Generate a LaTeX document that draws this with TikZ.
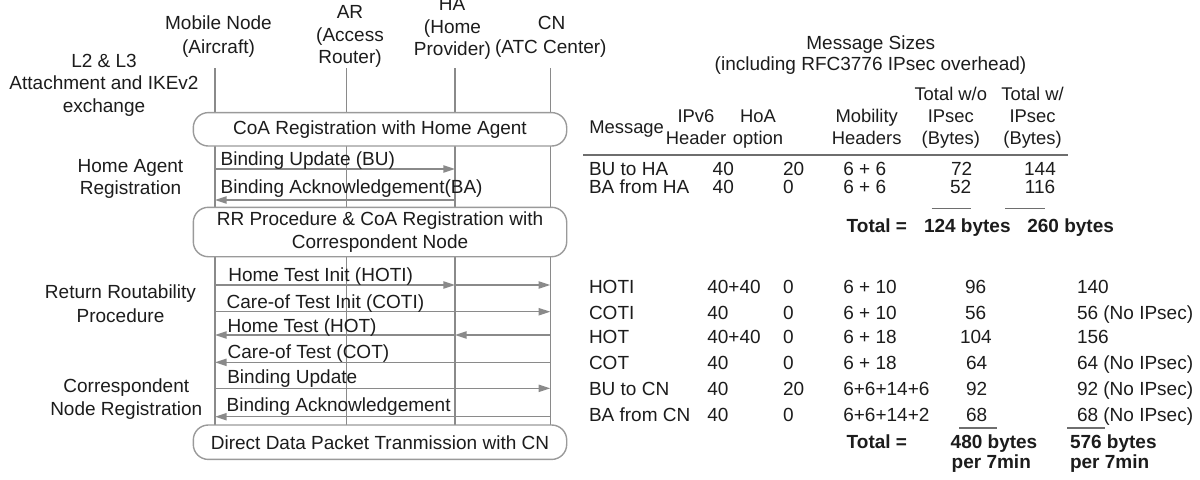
\documentclass[tikz,border=0pt]{standalone}
\usepackage{fontspec}
\setmainfont{Liberation Sans}
\usetikzlibrary{arrows.meta,backgrounds}
\definecolor{ink}{HTML}{1C1C1C}
\definecolor{linegray}{HTML}{8A8A8A}
\definecolor{boxgray}{HTML}{9A9A9A}
\definecolor{rulegray}{HTML}{6E6E6E}

\begin{document}
\begin{tikzpicture}[x=0.5pt, y=-0.5pt,
  every node/.style={inner sep=0pt, outer sep=0pt, text=ink,
                     font=\fontsize{9.5}{11.3}\selectfont},
  ctr/.style={anchor=base},
  lft/.style={anchor=base west},
  bold/.style={font=\fontsize{9.5}{11.3}\selectfont\bfseries},
  colhead/.style={anchor=base, font=\fontsize{9.2}{11}\selectfont},
  lifeline/.style={draw=linegray, line width=0.7pt},
  msg/.style={draw=linegray, line width=0.7pt,
              -{Triangle[length=5.8pt, width=3.6pt]}},
  phase/.style={draw=boxgray, fill=white, line width=0.7pt,
                rounded corners=7.5pt, minimum width=186.7pt, align=center},
  toprule/.style={draw=rulegray, line width=1pt},
  sumrule/.style={draw=rulegray, line width=0.6pt}]

\useasboundingbox (0,0) rectangle (1200,479);

% ---------------- entity headings ----------------
\node[ctr] (mnA) at (218.5,29.5) {Mobile Node};
\node[ctr] (mnB) at (218.5,53)   {(Aircraft)};
\node[ctr] (arA) at (350,18.5)   {AR};
\node[ctr] (arB) at (350,41)     {(Access};
\node[ctr] (arC) at (350,63.5)   {Router)};
\node[ctr] (haA) at (452,10.5)   {HA};
\node[ctr] (haB) at (452.5,33)   {(Home};
\node[ctr] (haC) at (452.5,55.5) {Provider)};
\node[ctr] (cnA) at (551.5,29)   {CN};
\node[ctr] (cnB) at (550.8,53)   {(ATC Center)};

% lifeline tops
\coordinate (mn) at (215,68);
\coordinate (ar) at (346.7,68);
\coordinate (ha) at (455,68);
\coordinate (cn) at (550.3,68);

% ---------------- phase boxes ----------------
\node[phase, minimum height=16.7pt] (coa) at (380,129.3)
  {CoA Registration with Home Agent};
\node[phase, minimum height=24.7pt] (rr) at (380,232)
  {RR Procedure \& CoA Registration with\\Correspondent Node};
\node[phase, minimum height=17.2pt] (ddp) at (380,442.2)
  {Direct Data Packet Tranmission with CN};

% lifelines run behind the boxes
\begin{scope}[on background layer]
  \foreach \e in {mn,ar,ha,cn}
    \draw[lifeline] (\e) -- (\e |- ddp.north);
\end{scope}

% ---------------- phase labels on the left ----------------
\node[ctr] (phA1) at (104,67)    {L2 \& L3};
\node[ctr] (phA2) at (104,89)    {Attachment and IKEv2};
\node[ctr] (phA3) at (104,112)   {exchange};
\node[ctr] (phB1) at (130.5,172) {Home Agent};
\node[ctr] (phB2) at (130.5,194.7) {Registration};
\node[ctr] (phC1) at (120.5,298.7) {Return Routability};
\node[ctr] (phC2) at (120.5,322) {Procedure};
\node[ctr] (phD1) at (126.3,392) {Correspondent};
\node[ctr] (phD2) at (126.3,415.3) {Node Registration};

% ---------------- messages ----------------
\draw[msg] (mn |- 0,169) -- (ha |- 0,169);
\node[lft] (mBU) at (220.7,165.3) {Binding Update (BU)};
\draw[msg] (ha |- 0,200) -- (mn |- 0,200);
\node[lft] (mBA) at (220.7,193.7) {Binding Acknowledgement(BA)};

\draw[msg] (mn |- 0,285) -- (ha |- 0,285);
\draw[msg] (ha |- 0,285) -- (cn |- 0,285);
\node[lft] (mHOTI) at (228.3,281.3) {Home Test Init (HOTI)};
\draw[msg] (mn |- 0,311.7) -- (cn |- 0,311.7);
\node[lft] (mCOTI) at (226.7,308.7) {Care-of Test Init (COTI)};
\draw[msg] (cn |- 0,335) -- (ha |- 0,335);
\draw[msg] (ha |- 0,335) -- (mn |- 0,335);
\node[lft] (mHOT) at (227.7,332) {Home Test (HOT)};
\draw[msg] (cn |- 0,362.3) -- (mn |- 0,362.3);
\node[lft] (mCOT) at (227.7,358.7) {Care-of Test (COT)};
\draw[msg] (mn |- 0,388.3) -- (cn |- 0,388.3);
\node[lft] (mBU2) at (227.3,383.7) {Binding Update};
\draw[msg] (cn |- 0,416.7) -- (mn |- 0,416.7);
\node[lft] (mBA2) at (226.7,411) {Binding Acknowledgement};

% ---------------- message size table ----------------
\node[ctr] (tt1) at (870.8,49.7) {Message Sizes};
\node[ctr] (tt2) at (870.5,70.3) {(including RFC3776 IPsec overhead)};

\node[colhead, anchor=base west] (hMsg) at (589.3,133.5) {Message};
\node[colhead] (hIp1) at (696,122.5) {IPv6};
\node[colhead] (hIp2) at (696,144)   {Header};
\node[colhead] (hHo1) at (758,122.5) {HoA};
\node[colhead] (hHo2) at (758,144)   {option};
\node[colhead] (hMo1) at (866.7,122.5) {Mobility};
\node[colhead] (hMo2) at (866.7,144)   {Headers};
\node[colhead] (hWo1) at (950.8,100.5) {Total w/o};
\node[colhead] (hWo2) at (950.8,122.5) {IPsec};
\node[colhead] (hWo3) at (950.8,144)   {(Bytes)};
\node[colhead] (hW1)  at (1032.5,100.5) {Total w/};
\node[colhead] (hW2)  at (1032.5,122.5) {IPsec};
\node[colhead] (hW3)  at (1032.5,144)   {(Bytes)};
\coordinate (ruleL) at (583,155);
\coordinate (ruleR) at (1068,155);
\draw[toprule] (ruleL) -- (ruleR);

% home agent registration block
\node[lft] (r1a) at (589,175)   {BU to HA};
\node[lft] (r1b) at (712.7,175) {40};
\node[lft] (r1c) at (783,175)   {20};
\node[lft] (r1d) at (843.3,175) {6 + 6};
\node[ctr] (r1e) at (961.7,175) {72};
\node[ctr] (r1f) at (1040,175)  {144};

\node[lft] (r2a) at (589,193)   {BA from HA};
\node[lft] (r2b) at (712.7,193) {40};
\node[lft] (r2c) at (783,193)   {0};
\node[lft] (r2d) at (843.3,193) {6 + 6};
\node[ctr] (r2e) at (960.7,193) {52};
\node[ctr] (r2f) at (1040,193)  {116};

\coordinate (s1L) at (931.7,208.5); \coordinate (s1R) at (970.7,208.5);
\coordinate (s2L) at (1005,208.5);  \coordinate (s2R) at (1045,208.5);
\draw[sumrule] (s1L) -- (s1R);
\draw[sumrule] (s2L) -- (s2R);

\node[lft, bold] (t1a) at (846.7,232.5) {Total =};
\node[lft, bold] (t1b) at (924,232.5)   {124 bytes};
\node[lft, bold] (t1c) at (1027.3,232.5) {260 bytes};

% return routability and correspondent registration block
\node[lft] (r3a) at (589,293)   {HOTI};
\node[lft] (r3b) at (707.3,293) {40+40};
\node[lft] (r3c) at (783,293)   {0};
\node[lft] (r3d) at (843.3,293) {6 + 10};
\node[lft] (r3e) at (965,293)   {96};
\node[lft] (r3f) at (1077,293)  {140};

\node[lft] (r4a) at (589,319)   {COTI};
\node[lft] (r4b) at (707.3,319) {40};
\node[lft] (r4c) at (783,319)   {0};
\node[lft] (r4d) at (843.3,319) {6 + 10};
\node[lft] (r4e) at (965,319)   {56};
\node[lft] (r4f) at (1077,319)  {56 (No IPsec)};

\node[lft] (r5a) at (589,343)   {HOT};
\node[lft] (r5b) at (707.3,343) {40+40};
\node[lft] (r5c) at (783,343)   {0};
\node[lft] (r5d) at (843.3,343) {6 + 18};
\node[lft] (r5e) at (960,343)   {104};
\node[lft] (r5f) at (1077,343)  {156};

\node[lft] (r6a) at (589,369.5)   {COT};
\node[lft] (r6b) at (707.3,369.5) {40};
\node[lft] (r6c) at (783,369.5)   {0};
\node[lft] (r6d) at (843.3,369.5) {6 + 18};
\node[lft] (r6e) at (966,369.5)   {64};
\node[lft] (r6f) at (1077,369.5)  {64 (No IPsec)};

\node[lft] (r7a) at (589,395.5)   {BU to CN};
\node[lft] (r7b) at (707.3,395.5) {40};
\node[lft] (r7c) at (783,395.5)   {20};
\node[lft] (r7d) at (843.3,395.5) {6+6+14+6};
\node[lft] (r7e) at (966,395.5)   {92};
\node[lft] (r7f) at (1077,395.5)  {92 (No IPsec)};

\node[lft] (r8a) at (589,421)   {BA from CN};
\node[lft] (r8b) at (707.3,421) {40};
\node[lft] (r8c) at (783,421)   {0};
\node[lft] (r8d) at (843.3,421) {6+6+14+2};
\node[lft] (r8e) at (966,421)   {68};
\node[lft] (r8f) at (1077,421)  {68 (No IPsec)};

\coordinate (s3L) at (959.3,428); \coordinate (s3R) at (997.3,428);
\coordinate (s4L) at (1067,428);  \coordinate (s4R) at (1105,428);
\draw[sumrule] (s3L) -- (s3R);
\draw[sumrule] (s4L) -- (s4R);

\node[lft, bold] (t2a) at (846.7,448) {Total =};
\node[lft, bold] (t2b) at (950.7,448) {480 bytes};
\node[lft, bold] (t2c) at (1070,448)  {576 bytes};
\node[lft, bold] (t2d) at (951.7,468) {per 7min};
\node[lft, bold] (t2e) at (1070,468)  {per 7min};

\end{tikzpicture}
\end{document}
